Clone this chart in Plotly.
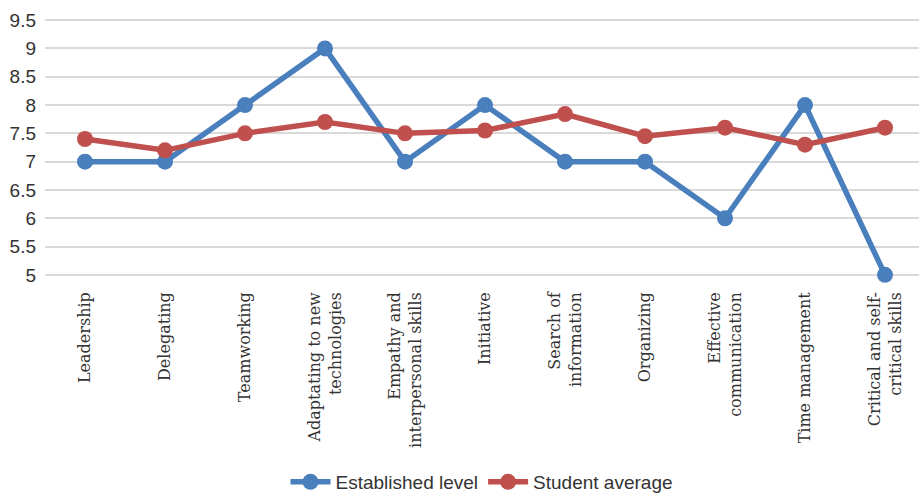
import plotly.graph_objects as go

categories = ["Leadership", "Delegating", "Teamworking", "Adaptating to new<br>technologies",
              "Empathy and<br>interpersonal skills", "Initiative", "Search of<br>information",
              "Organizing", "Effective<br>communication", "Time management",
              "Critical and self-<br>critical skills"]
established = [7, 7, 8, 9, 7, 8, 7, 7, 6, 8, 5]
student_avg = [7.4, 7.2, 7.5, 7.7, 7.5, 7.55, 7.84, 7.45, 7.6, 7.3, 7.6]
y_ticks = [5, 5.5, 6, 6.5, 7, 7.5, 8, 8.5, 9, 9.5]

BLUE = "#4a7fbd"
RED = "#c0504d"
x = list(range(len(categories)))

fig = go.Figure()
fig.add_trace(go.Scatter(x=x, y=established, name="Established level", mode="lines+markers",
                         cliponaxis=False,
                         line=dict(color=BLUE, width=5.5), marker=dict(color=BLUE, size=16)))
fig.add_trace(go.Scatter(x=x, y=student_avg, name="Student average", mode="lines+markers",
                         cliponaxis=False,
                         line=dict(color=RED, width=5.5), marker=dict(color=RED, size=16)))

fig.update_layout(
    width=919, height=501,
    margin=dict(l=45, r=0, t=19.4, b=223.9),
    plot_bgcolor="white", paper_bgcolor="white",
    showlegend=True,
    legend=dict(orientation="h", x=0.5, xanchor="center", y=-0.80, yanchor="middle",
                font=dict(family="Liberation Sans", size=19, color="#333333"),
                itemwidth=40, tracegroupgap=0),
    xaxis=dict(tickmode="array", tickvals=x, ticktext=categories, tickangle=-90,
               range=[-0.5, 10.425], showgrid=False, zeroline=False, showline=False,
               ticks="", ticklabelstandoff=12, automargin=False,
               tickfont=dict(family="DejaVu Serif", size=16, color="#333333")),
    yaxis=dict(range=[4.98, 9.52], tickmode="array", tickvals=y_ticks,
               ticktext=[("%g" % v) for v in y_ticks], automargin=False,
               showgrid=True, gridcolor="#d9d9d9", gridwidth=1.5, zeroline=False,
               showline=False, ticks="", ticklabelstandoff=8,
               tickfont=dict(family="Liberation Sans", size=19, color="#333333")),
)

fig.write_html("out.html")
